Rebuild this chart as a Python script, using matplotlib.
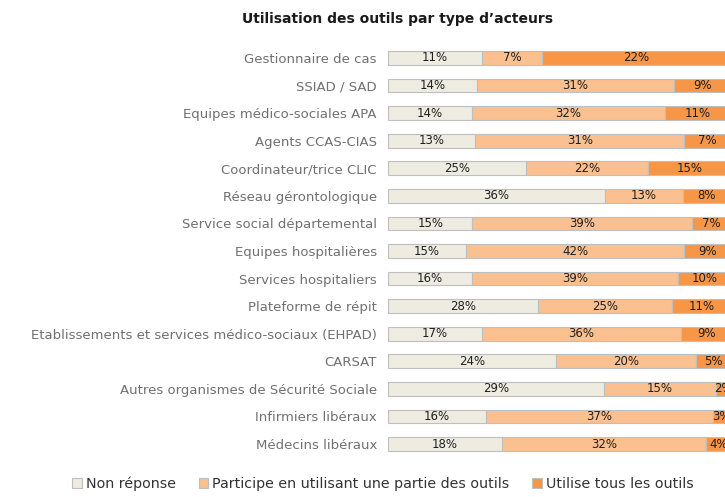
import matplotlib
matplotlib.use("Agg")
import matplotlib.pyplot as plt
import numpy as np

categories = [
    "Gestionnaire de cas",
    "SSIAD / SAD",
    "Equipes médico-sociales APA",
    "Agents CCAS-CIAS",
    "Coordinateur/trice CLIC",
    "Réseau gérontologique",
    "Service social départemental",
    "Equipes hospitalières",
    "Services hospitaliers",
    "Plateforme de répit",
    "Etablissements et services médico-sociaux (EHPAD)",
    "CARSAT",
    "Autres organismes de Sécurité Sociale",
    "Infirmiers libéraux",
    "Médecins libéraux",
]
non_reponse = [11, 14, 14, 13, 25, 36, 15, 15, 16, 28, 17, 24, 29, 16, 18]
participe_partie = [7, 31, 32, 31, 22, 13, 39, 42, 39, 25, 36, 20, 15, 37, 32]
utilise_tous = [22, 9, 11, 7, 15, 8, 7, 9, 10, 11, 9, 5, 2, 3, 4]

series_names = ["Non réponse", "Participe en utilisant une partie des outils",
                "Utilise tous les outils"]
colors = ["#EEECE1", "#FAC090", "#F79646"]

plt.rcParams['font.family'] = ['DejaVu Sans']

fig = plt.figure(figsize=(7.25, 4.97), dpi=100)
ax = fig.add_axes([388/725, 1 - 457.8/497, (731 - 388)/725, (457.8 - 44.2)/497])

data = np.array([non_reponse, participe_partie, utilise_tous], dtype=float)
totals = data.sum(axis=0)
frac = data / totals
y = np.arange(len(categories))
left = np.zeros(len(categories))
handles = []
for i in range(3):
    b = ax.barh(y, frac[i], left=left, height=0.5, color=colors[i],
                edgecolor="#BFBFBF", linewidth=0.8, label=series_names[i])
    handles.append(b)
    for j in range(len(categories)):
        ax.text(left[j] + frac[i][j] / 2, y[j], f"{int(data[i][j])}%",
                ha="center", va="center", fontsize=8.5, color="#1f1f1f",
                clip_on=False)
    left += frac[i]

ax.set_ylim(len(categories) - 0.5, -0.5)
ax.set_xlim(0, 1)
ax.set_yticks(y)
ax.set_yticklabels(categories, fontsize=9.5, color="#707070")
ax.tick_params(axis="y", length=0, pad=8)
ax.set_xticks([])
for s in ax.spines.values():
    s.set_visible(False)

fig.text(397/725, 1 - 19/497, "Utilisation des outils par type d\u2019acteurs",
         ha="center", va="center", fontsize=10, fontweight="bold", color="#1a1a1a")

leg = fig.legend(handles=handles, labels=series_names, loc="center",
                 bbox_to_anchor=(383/725, 1 - 484/497), ncol=3, frameon=False,
                 fontsize=10.3, handlelength=0.65, handleheight=0.65,
                 handletextpad=0.3, columnspacing=1.6)
for t in leg.get_texts():
    t.set_color("#333333")

fig.savefig("out.png", dpi=100)
